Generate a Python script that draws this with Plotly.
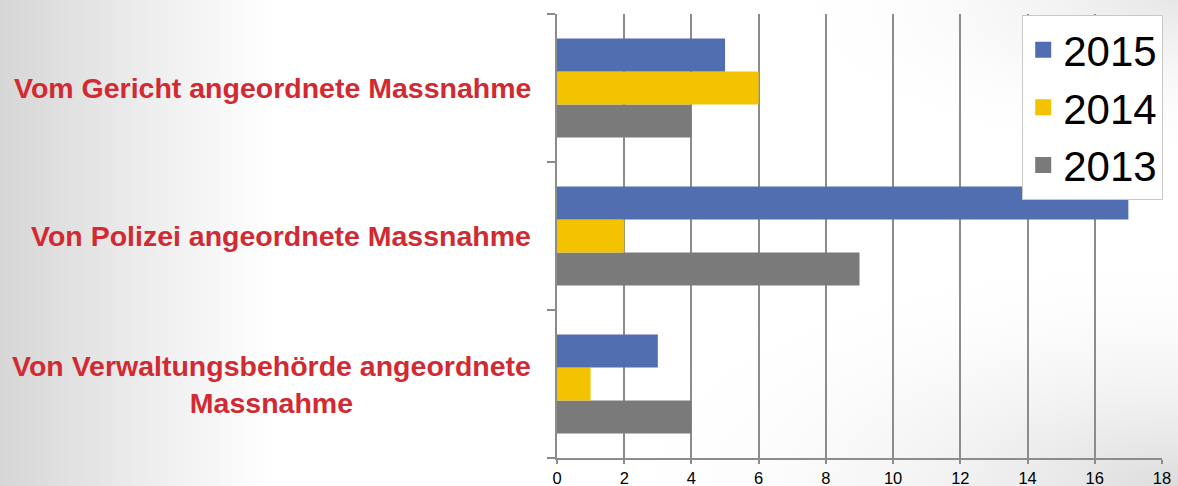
import plotly.graph_objects as go
import base64

categories = ["Von Verwaltungsbehörde angeordnete<br>Massnahme",
              "Von Polizei angeordnete Massnahme",
              "Vom Gericht angeordnete Massnahme"]
years = ["2013", "2014", "2015"]
values_2013 = [4, 9, 4]
values_2014 = [1, 2, 6]
values_2015 = [3, 17, 5]
colors = {"2013": "#7a7a7a", "2014": "#f4c300", "2015": "#516eb0"}
x_ticks = [0, 2, 4, 6, 8, 10, 12, 14, 16, 18]

series = {"2013": values_2013, "2014": values_2014, "2015": values_2015}

fig = go.Figure()
for yr in years:
    fig.add_trace(go.Bar(
        y=categories, x=series[yr], orientation="h", name=yr,
        marker=dict(color=colors[yr], line=dict(width=0)),
        showlegend=False,
    ))
# legend-only swatches (larger squares)
for yr in years:
    fig.add_trace(go.Scatter(
        x=[None], y=[None], mode="markers", name=yr,
        marker=dict(symbol="square", size=16, color=colors[yr]),
        showlegend=True,
    ))

svg = """<svg xmlns='http://www.w3.org/2000/svg' width='1178' height='486' preserveAspectRatio='none'>
<defs>
<linearGradient id='g' x1='0' y1='0' x2='1' y2='0'>
<stop offset='0' stop-color='#d6d6d6'/>
<stop offset='0.12' stop-color='#ececec'/>
<stop offset='0.23' stop-color='#ffffff'/>
<stop offset='1' stop-color='#ffffff'/>
</linearGradient>
<radialGradient id='r' cx='1' cy='1' r='0.5'>
<stop offset='0' stop-color='#dcdcdc' stop-opacity='1'/>
<stop offset='1' stop-color='#ffffff' stop-opacity='0'/>
</radialGradient>
<radialGradient id='r2' cx='1' cy='0' r='0.35'>
<stop offset='0' stop-color='#e6e6e6' stop-opacity='1'/>
<stop offset='1' stop-color='#ffffff' stop-opacity='0'/>
</radialGradient>
</defs>
<rect width='1178' height='486' fill='url(#g)'/>
<rect width='1178' height='486' fill='url(#r)'/>
<rect width='1178' height='486' fill='url(#r2)'/>
</svg>"""
src = "data:image/svg+xml;base64," + base64.b64encode(svg.encode()).decode()

fig.update_layout(
    width=1178, height=486,
    margin=dict(l=557, r=16, t=14, b=28, autoexpand=False),
    paper_bgcolor="white", plot_bgcolor="rgba(0,0,0,0)",
    barmode="group", bargap=0.33, bargroupgap=0,
    font=dict(family="Liberation Sans, Arial, sans-serif", color="black"),
    images=[dict(source=src, xref="paper", yref="paper", x=-557/605, y=1 + 14/444,
                 sizex=1178/605, sizey=486/444, xanchor="left", yanchor="top",
                 sizing="stretch", layer="below")],
    legend=dict(
        x=1.002, y=0.998, xanchor="right", yanchor="top",
        bgcolor="white", bordercolor="#c8c8c8", borderwidth=1,
        font=dict(size=42, family="Liberation Sans, Arial, sans-serif", color="black"),
        traceorder="reversed", itemwidth=30, tracegroupgap=0,
    ),
    xaxis=dict(
        range=[0, 18], tickvals=x_ticks, showgrid=True, gridcolor="#8c8c8c", gridwidth=2,
        showline=True, linecolor="#8c8c8c", linewidth=2,
        ticks="outside", ticklen=4, tickcolor="#8c8c8c", tickwidth=2,
        tickfont=dict(size=16.5, color="black"), zeroline=False, fixedrange=True,
        automargin=False, ticklabelstandoff=0,
    ),
    yaxis=dict(
        categoryorder="array", categoryarray=categories,
        showline=True, linecolor="#8c8c8c", linewidth=2,
        ticks="outside", tickson="boundaries", ticklen=8, tickcolor="#8c8c8c", tickwidth=2,
        showticklabels=False, showgrid=False, zeroline=False, automargin=False,
    ),
)

for cat in categories:
    fig.add_annotation(
        x=0, xref="paper", y=cat, yref="y", xanchor="right", yanchor="middle",
        xshift=-24, text="<b>" + cat + "</b>", showarrow=False, align="center",
        font=dict(size=28.5, color="#d12a32", family="Liberation Sans, Arial, sans-serif"),
    )

fig.write_html("out.html", config={"displayModeBar": False},
               post_script="document.body.style.margin='0';document.body.style.overflow='hidden';")
